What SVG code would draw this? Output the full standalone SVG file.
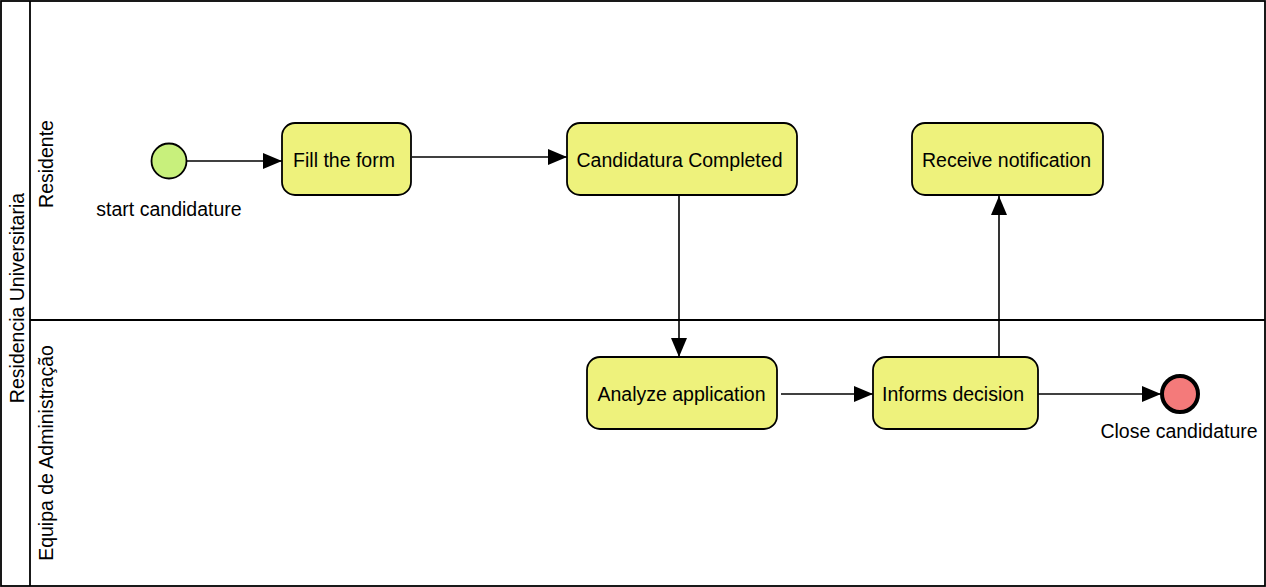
<svg xmlns="http://www.w3.org/2000/svg" width="1266" height="587" viewBox="0 0 1266 587">
<defs>
<style>
text{font-family:"Liberation Sans",Arial,sans-serif;font-size:19.5px;fill:#000}
.task{fill:#eef27c;stroke:#000;stroke-width:1.8}
.lane{fill:none;stroke:#000;stroke-width:1.8}
.conn{fill:none;stroke:#000;stroke-width:1.6}
</style>
<marker id="arr" markerWidth="20" markerHeight="16" refX="19" refY="8" orient="auto" markerUnits="userSpaceOnUse">
<path d="M0,0 L19,8 L0,16 Z" fill="#000"/>
</marker>
</defs>
<rect width="1266" height="587" fill="#fff"/>
<g id="pool">
<rect class="lane" x="1" y="1" width="1264" height="585"/>
<line class="lane" x1="30" y1="1" x2="30" y2="586"/>
<line class="lane" x1="30" y1="320" x2="1265" y2="320"/>
<text transform="translate(24,298) rotate(-90)" text-anchor="middle">Residencia Universitaria</text>
<text transform="translate(53,164) rotate(-90)" text-anchor="middle">Residente</text>
<text transform="translate(53,453) rotate(-90)" text-anchor="middle">Equipa de Administração</text>
</g>
<g id="connectors">
<line class="conn" x1="187" y1="161" x2="282" y2="161" marker-end="url(#arr)"/>
<line class="conn" x1="412" y1="157" x2="567" y2="157" marker-end="url(#arr)"/>
<line class="conn" x1="679" y1="196" x2="679" y2="357" marker-end="url(#arr)"/>
<line class="conn" x1="781" y1="394" x2="873" y2="394" marker-end="url(#arr)"/>
<line class="conn" x1="999" y1="357" x2="999" y2="196" marker-end="url(#arr)"/>
<line class="conn" x1="1038" y1="394" x2="1161" y2="394" marker-end="url(#arr)"/>
</g>
<g id="start">
<circle cx="169" cy="161" r="17.5" fill="#c8f07c" stroke="#000" stroke-width="1.8"/>
<text x="169" y="216" text-anchor="middle">start candidature</text>
</g>
<g id="fill-form">
<rect class="task" x="282" y="123" width="129" height="72" rx="13"/>
<text x="344" y="167" text-anchor="middle">Fill the form</text>
</g>
<g id="candidatura-completed">
<rect class="task" x="567" y="123" width="230" height="72" rx="13"/>
<text x="679.5" y="167" text-anchor="middle">Candidatura Completed</text>
</g>
<g id="receive-notification">
<rect class="task" x="912" y="123" width="191" height="72" rx="13"/>
<text x="1006.5" y="167" text-anchor="middle">Receive notification</text>
</g>
<g id="analyze-application">
<rect class="task" x="587" y="357" width="190" height="72" rx="13"/>
<text x="681.5" y="401" text-anchor="middle">Analyze application</text>
</g>
<g id="informs-decision">
<rect class="task" x="873" y="357" width="165" height="72" rx="13"/>
<text x="953" y="401" text-anchor="middle">Informs decision</text>
</g>
<g id="end">
<circle cx="1180" cy="394" r="18" fill="#f47a7a" stroke="#000" stroke-width="4"/>
<text x="1179" y="438" text-anchor="middle">Close candidature</text>
</g>
</svg>
